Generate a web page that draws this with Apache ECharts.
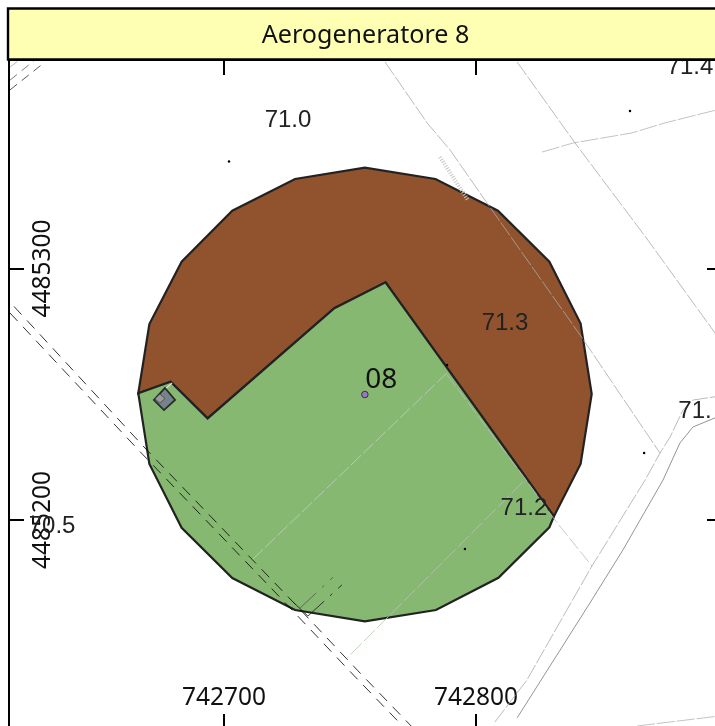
<!DOCTYPE html>
<html>
<head>
<meta charset="utf-8">
<style>
	html, body { margin: 0; padding: 0; background: #fff; }
	#main { width: 715px; height: 726px; }
</style>
<script src="https://cdn.jsdelivr.net/npm/echarts@6/dist/echarts.min.js"></script>
</head>
<body>
<div id="main"></div>
<script>
	// strip and axes
	var stripTitle = 'Aerogeneratore 8';
	var eastTicks = [742700, 742800];
	var northTicks = [4485200, 4485300];

	// wake zones, easting / northing
	var brownZone = [[742666.0,4485250.4],[742670.4,4485277.9],[742683.2,4485302.7],[742703.3,4485323.0],[742728.2,4485335.6],[742755.9,4485340.1],[742783.9,4485335.6],[742808.7,4485323.0],[742829.1,4485302.7],[742841.5,4485278.1],[742845.9,4485250.1],[742841.5,4485222.3],[742830.9,4485201.4],[742764.1,4485294.5],[742743.8,4485284.2],[742693.5,4485240.4],[742678.8,4485255.0]];
	var greenZone = [[742666.0,4485250.4],[742678.8,4485255.0],[742693.5,4485240.4],[742743.8,4485284.2],[742764.1,4485294.5],[742830.9,4485201.4],[742829.1,4485197.1],[742808.9,4485177.0],[742784.1,4485164.2],[742755.9,4485159.7],[742728.2,4485164.2],[742703.3,4485176.9],[742683.2,4485196.9],[742670.4,4485222.3]];

	// small building
	var building = [[742676.6,4485252.5],[742680.6,4485247.7],[742676.2,4485243.7],[742672.2,4485247.7]];
	var buildingInner = [[742674.6,4485250.1],[742676.6,4485248.3],[742674.6,4485246.5],[742672.6,4485248.1]];
	var buildingLink = [[742675.4,4485250.9],[742679.4,4485254.5]];
	var hatch = [[742785.7,4485344.3],[742796.8,4485327.2]];

	// base map, dashed black
	var roadA = [[742616.7,4485284.9],[742669.4,4485227.8],[742727.4,4485167.4],[742753.2,4485140.0],[742775.8,4485116.5]];
	var roadB = [[742615.1,4485282.3],[742666.1,4485227.8],[742724.0,4485167.4],[742749.8,4485140.0],[742772.4,4485116.5]];
	var cornerA = [[742615.1,4485371.0],[742629.0,4485382.1]];
	var cornerB = [[742615.1,4485374.9],[742625.0,4485382.9]];
	var cornerC = [[742615.1,4485380.1],[742618.3,4485382.5]];
	var spurA = [[742730.2,4485165.0],[742743.3,4485177.3]];
	var spurB = [[742733.3,4485161.8],[742746.8,4485174.2]];
	var spurLink = [[742727.4,4485167.4],[742733.3,4485161.8]];

	// base map, thin grey
	var fieldA = [[742763.9,4485382.1],[742780.6,4485357.9],[742789.7,4485347.1],[742804.4,4485326.0],[742842.1,4485272.4],[742873.0,4485226.6]];
	var fieldB = [[742788.5,4485257.7],[742819.8,4485216.0],[742831.3,4485200.0],[742846.0,4485181.7]];
	var fieldC = [[742788.5,4485258.5],[742711.1,4485184.1]];
	var fieldD = [[742818.6,4485215.1],[742748.8,4485145.1]];
	var fieldE = [[742816.3,4485382.1],[742839.3,4485349.9],[742868.2,4485311.3],[742896.8,4485271.6]];
	var fieldF = [[742826.2,4485346.3],[742838.5,4485349.9],[742861.9,4485353.9],[742875.0,4485357.9],[742896.8,4485363.4]];
	var fieldG = [[742863.9,4485118.1],[742896.8,4485122.1]];
	var lanePale = [[742807.5,4485119.7],[742820.2,4485136.4],[742846.0,4485181.7],[742867.1,4485215.9],[742873.0,4485226.6],[742877.0,4485233.0],[742882.1,4485243.7],[742886.1,4485247.7],[742896.8,4485249.3]];
	var laneDark = [[742816.3,4485121.3],[742845.2,4485167.0],[742858.3,4485188.1],[742874.2,4485215.9],[742880.9,4485230.6],[742886.1,4485237.0],[742896.8,4485241.4]];

	// points and labels
	var spotDots = [[742702.0,4485342.5],[742861.1,4485362.6],[742866.7,4485226.6],[742795.6,4485188.5],[742788.5,4485261.6]];
	var turbine = [[742755.9,4485249.9,'08']];
	var contourLabels = [
		[742725.4,4485359.4,'71.0'],
		[742884.9,4485380.2,'71.4'],
		[742811.5,4485278.7,'71.3'],
		[742819.0,4485205.2,'71.2'],
		[742886.9,4485243.7,'71.'],
		[742631.8,4485198.0,'70.5']
	];

	function lineSeries(points, color, width, dash) {
		return {
			type: 'line',
			data: points,
			symbol: 'none',
			silent: true,
			clip: true,
			z: 4,
			lineStyle: { color: color, width: width, type: dash || 'solid' }
		};
	}

	function polygonSeries(points, fill, stroke, width, z) {
		return {
			type: 'custom',
			data: points,
			silent: true,
			z: z,
			renderItem: function (params, api) {
				if (params.dataIndex !== 0) return null;
				return {
					type: 'polygon',
					shape: { points: points.map(function (p) { return api.coord(p); }) },
					style: { fill: fill, stroke: stroke, lineWidth: width, lineJoin: 'miter' }
				};
			}
		};
	}

	function tickAxis(values, position, showLabel, rotate, margin) {
		return {
			type: 'value',
			position: position,
			axisLine: { show: true, onZero: false, lineStyle: { color: '#000', width: 2 } },
			axisTick: { show: true, inside: true, length: 15, customValues: values, lineStyle: { color: '#000', width: 2 } },
			axisLabel: {
				show: showLabel,
				inside: true,
				margin: margin,
				rotate: rotate,
				customValues: values,
				color: '#111',
				fontFamily: 'Noto Sans',
				fontSize: 24.5,
				formatter: function (v) { return String(v); }
			},
			splitLine: { show: false }
		};
	}

	var xBottom = tickAxis(eastTicks, 'bottom', true, 0, 18);
	var xTop = tickAxis(eastTicks, 'top', false, 0, 23);
	var yLeft = tickAxis(northTicks, 'left', true, 90, 21.5);
	var yRight = tickAxis(northTicks, 'right', false, 0, 23);
	[xBottom, xTop].forEach(function (a) { a.min = 742614.7; a.max = 742897.6; });
	[yLeft, yRight].forEach(function (a) { a.min = 4485116.9; a.max = 4485382.9; });

	var series = [
		polygonSeries(brownZone, '#90532E', '#222', 2.2, 2),
		polygonSeries(greenZone, '#86B872', '#222', 2.2, 2),
		lineSeries(roadA, '#000', 0.8, [11, 8]),
		lineSeries(roadB, '#000', 0.8, [11, 8]),
		lineSeries(cornerA, '#111', 0.7, [9, 6]),
		lineSeries(cornerB, '#444', 0.7, [9, 6]),
		lineSeries(cornerC, '#999', 0.7, [9, 6]),
		lineSeries(spurA, '#555', 0.8, [22, 8, 3, 8]),
		lineSeries(spurB, '#111', 0.8, [22, 8, 3, 8]),
		lineSeries(spurLink, '#111', 0.8),
		lineSeries(fieldA, '#aaa', 0.8, [16, 2]),
		lineSeries(fieldB, '#bbb', 0.8, [14, 3]),
		lineSeries(fieldC, '#c4cfc0', 0.8, [14, 3]),
		lineSeries(fieldD, '#b8c4b4', 0.8, [16, 3]),
		lineSeries(fieldE, '#aaa', 0.8, [16, 2]),
		lineSeries(fieldF, '#b4b4b4', 0.8, [18, 2]),
		lineSeries(fieldG, '#b4b4b4', 0.8, [18, 2]),
		lineSeries(lanePale, '#aaa', 0.8, [16, 2]),
		lineSeries(laneDark, '#888', 0.9),
		lineSeries(hatch, '#c4c4c4', 4, [1, 1.6]),
		polygonSeries(building, '#75838A', '#2a2a2a', 1.8, 5),
		polygonSeries(buildingInner, '#9a9a9a', '#444', 0.8, 6),
		lineSeries(buildingLink, '#ddd', 1.2),
		{
			type: 'scatter',
			data: spotDots,
			symbolSize: 2.5,
			silent: true,
			z: 7,
			itemStyle: { color: '#000', opacity: 1 }
		},
		{
			type: 'scatter',
			data: turbine,
			symbolSize: 6.5,
			silent: true,
			z: 7,
			itemStyle: { color: '#9a78c4', borderColor: '#333', borderWidth: 1, opacity: 1 },
			label: {
				show: true,
				position: 'inside',
				offset: [16.5, -14.5],
				color: '#111',
				fontFamily: 'Noto Sans',
				fontSize: 28,
				formatter: function (p) { return p.value[2]; }
			}
		},
		{
			type: 'scatter',
			data: contourLabels,
			symbolSize: 0,
			silent: true,
			z: 8,
			itemStyle: { opacity: 1 },
			label: {
				show: true,
				position: 'inside',
				offset: [0, 1],
				color: '#222',
				fontFamily: 'Liberation Sans',
				fontSize: 24,
				formatter: function (p) { return p.value[2]; }
			}
		}
	];

	var myChart = echarts.init(document.getElementById('main'));
	myChart.setOption({
		animation: false,
		backgroundColor: '#fff',
		grid: { left: 9, top: 60, width: 713, height: 669, outerBoundsMode: 'none' },
		xAxis: [xBottom, xTop],
		yAxis: [yLeft, yRight],
		series: series,
		graphic: [
			{
				type: 'rect',
				z: 100,
				shape: { x: 8, y: 8.5, width: 730, height: 51 },
				style: { fill: '#FFFFB3', stroke: '#000', lineWidth: 2.4 }
			},
			{
				type: 'text',
				z: 101,
				x: 365.5,
				y: 35.5,
				style: {
					text: stripTitle,
					fill: '#111',
					font: '25.1px "Noto Sans"',
					textAlign: 'center',
					textVerticalAlign: 'middle'
				}
			}
		]
	});
</script>
</body>
</html>
